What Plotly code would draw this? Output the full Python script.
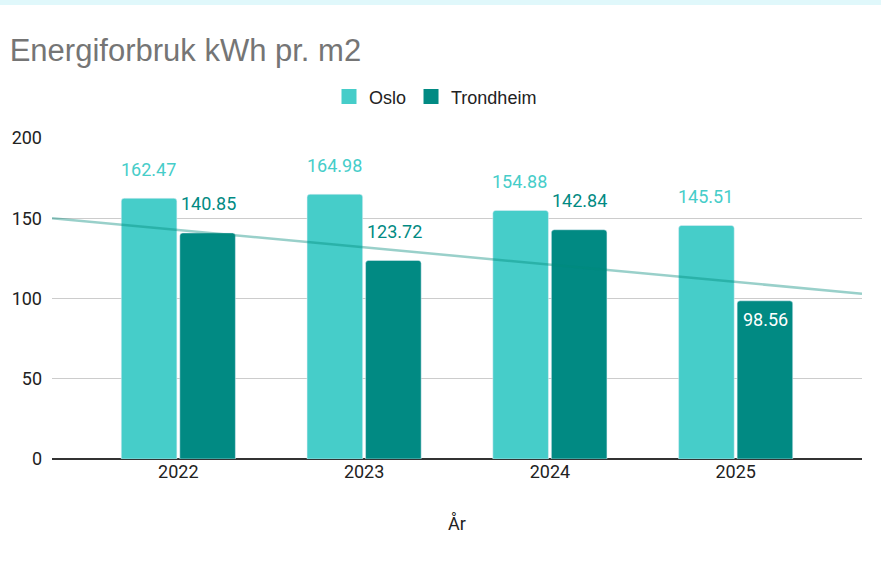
import numpy as np
import plotly.graph_objects as go

years = ["2022", "2023", "2024", "2025"]
oslo = [162.47, 164.98, 154.88, 145.51]
trondheim = [140.85, 123.72, 142.84, 98.56]
y_ticks = [0, 50, 100, 150, 200]

OSLO_C = "#46cdc9"
TRD_C = "#018a83"
LBL = 18

fig = go.Figure()
fig.add_trace(go.Bar(name="Oslo", x=years, y=oslo, marker_color=OSLO_C, showlegend=False))
fig.add_trace(go.Bar(name="Trondheim", x=years, y=trondheim, marker_color=TRD_C, showlegend=False))

# linear trendline for Trondheim, across the full x range
xi = np.arange(len(years))
slope, inter = np.polyfit(xi, trondheim, 1)
xr = [-0.68, len(years) - 1 + 0.68]
fig.add_trace(go.Scatter(x=xr, y=[inter + slope * v for v in xr], mode="lines",
                         line=dict(color="rgba(0,137,123,0.4)", width=2.5),
                         showlegend=False, hoverinfo="skip", xaxis="x2"))

# legend entries with square symbols
for name, c in (("Oslo", OSLO_C), ("Trondheim", TRD_C)):
    fig.add_trace(go.Scatter(x=[None], y=[None], mode="markers", name=name, xaxis="x2",
                             marker=dict(symbol="square", size=15, color=c)))

anns = []
for i, (o, t) in enumerate(zip(oslo, trondheim)):
    anns.append(dict(x=i, y=o, xref="x2", yref="y", text=f"{o:.2f}", showarrow=False,
                     xshift=-30, yshift=29, font=dict(family="Roboto", size=LBL, color=OSLO_C)))
    if t < 110:
        anns.append(dict(x=i, y=t, xref="x2", yref="y", text=f"{t:.2f}", showarrow=False,
                         xshift=30, yshift=-19, font=dict(family="Roboto", size=LBL, color="white")))
    else:
        anns.append(dict(x=i, y=t, xref="x2", yref="y", text=f"{t:.2f}", showarrow=False,
                         xshift=30, yshift=29, font=dict(family="Roboto", size=LBL, color=TRD_C)))

anns.append(dict(x=0.5, y=-0.2, xref="paper", yref="paper", text="År", showarrow=False,
                 yanchor="middle", font=dict(family="Roboto", size=18, color="#222")))

fig.update_layout(
    width=881, height=563,
    margin=dict(l=52, r=19, t=138, b=104),
    paper_bgcolor="white", plot_bgcolor="white",
    barmode="group", bargap=0.37, bargroupgap=0.05, barcornerradius=3,
    title=dict(text="Energiforbruk kWh pr. m2", x=0.011, xanchor="left", y=0.911, yanchor="middle",
               font=dict(family="Liberation Sans, Arial", size=31, color="#757575")),
    legend=dict(orientation="h", x=(329 - 52) / 810, xanchor="left", y=1.128, yanchor="middle",
                font=dict(family="Liberation Sans, Arial", size=18, color="#222"),
                itemwidth=30, traceorder="normal"),
    xaxis=dict(type="category", range=[-0.68, 3.68], showgrid=False, showline=False,
               ticks="", tickfont=dict(family="Roboto", size=18, color="#222")),
    xaxis2=dict(overlaying="x", range=[-0.68, 3.68], visible=False),
    yaxis=dict(range=[0, 200], tickvals=y_ticks, showgrid=True, gridcolor="#cccccc",
               zeroline=True, zerolinecolor="#333333", zerolinewidth=1.5,
               ticks="", ticklabelstandoff=9,
               tickfont=dict(family="Roboto", size=18, color="#222")),
    annotations=anns,
    shapes=[dict(type="rect", xref="paper", yref="paper", x0=-0.1, x1=1.1,
                 y0=(459 - 5) / 321, y1=(459 + 2) / 321, fillcolor="#e0f8fb", line_width=0,
                 layer="below")],
    font=dict(family="Roboto"),
)

fig.write_html("out.html", config={"displayModeBar": False},
               post_script="document.body.style.margin='0';document.body.style.overflow='hidden';")
